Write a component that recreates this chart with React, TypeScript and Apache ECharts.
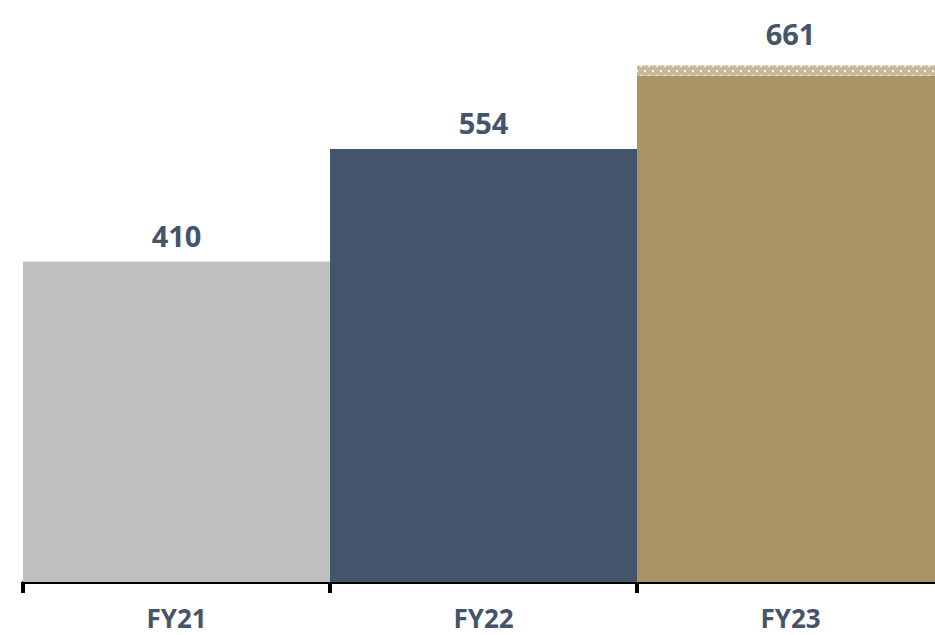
import React, { useEffect, useRef } from "react";
import * as echarts from "echarts";

// Fiscal years and their totals
const categories = ["FY21", "FY22", "FY23"];
const totals = [410, 554, 661];
// Dotted top slice of the latest year (included in its total)
const topSlice = [0, 0, 13];

const barColors = ["#bfbfbf", "#44546a", "#a99466"];
const textColor = "#44546a";
const fontFamily = "'Open Sans', 'Noto Sans', sans-serif";

export default function App() {
  const ref = useRef<HTMLDivElement>(null);

  useEffect(() => {
    if (!ref.current) return;
    const chart = echarts.init(ref.current, undefined, { renderer: "svg" });

    const baseData = totals.map((t, i) => ({
      value: t - topSlice[i],
      itemStyle: { color: barColors[i] },
      label: { show: topSlice[i] === 0 },
    }));
    const sliceData = topSlice.map((s) =>
      s > 0
        ? {
            value: s,
            itemStyle: {
              color: "#c9b99a",
              decal: {
                symbol: "circle",
                symbolSize: 1,
                color: "#ffffff",
                dashArrayX: [
                  [2, 6],
                  [0, 4, 2, 2],
                ],
                dashArrayY: [2, 3],
                rotation: 0,
              },
            },
          }
        : "-"
    );

    chart.setOption({
      animation: false,
      // the plot runs a little past the right edge of the page
      grid: {
        left: 23,
        right: -9,
        top: 35,
        bottom: 53,
        containLabel: false,
        outerBoundsMode: "none",
      },
      xAxis: {
        type: "category",
        data: categories,
        axisLine: { show: true, lineStyle: { color: "#000000", width: 3 } },
        axisTick: { show: true, length: 11, lineStyle: { color: "#000000", width: 4 } },
        axisLabel: {
          color: textColor,
          fontFamily,
          fontWeight: "bold",
          fontSize: 26,
          lineHeight: 20,
          margin: 26,
        },
      },
      yAxis: { type: "value", min: 0, max: 700, show: false },
      series: [
        {
          type: "bar",
          stack: "total",
          barCategoryGap: "0%",
          data: baseData,
          label: {
            position: "top",
            distance: 12,
            color: textColor,
            fontFamily,
            fontWeight: "bold",
            fontSize: 29,
            formatter: (p: any) => String(totals[p.dataIndex]),
          },
        },
        {
          type: "bar",
          stack: "total",
          barCategoryGap: "0%",
          data: sliceData,
          label: {
            show: true,
            position: "top",
            distance: 17,
            color: textColor,
            fontFamily,
            fontWeight: "bold",
            fontSize: 29,
            formatter: (p: any) => String(totals[p.dataIndex]),
          },
        },
      ],
    });

    return () => chart.dispose();
  }, []);

  return (
    <div
      ref={ref}
      style={{ position: "absolute", left: 0, top: 0, width: 935, height: 635 }}
    />
  );
}
